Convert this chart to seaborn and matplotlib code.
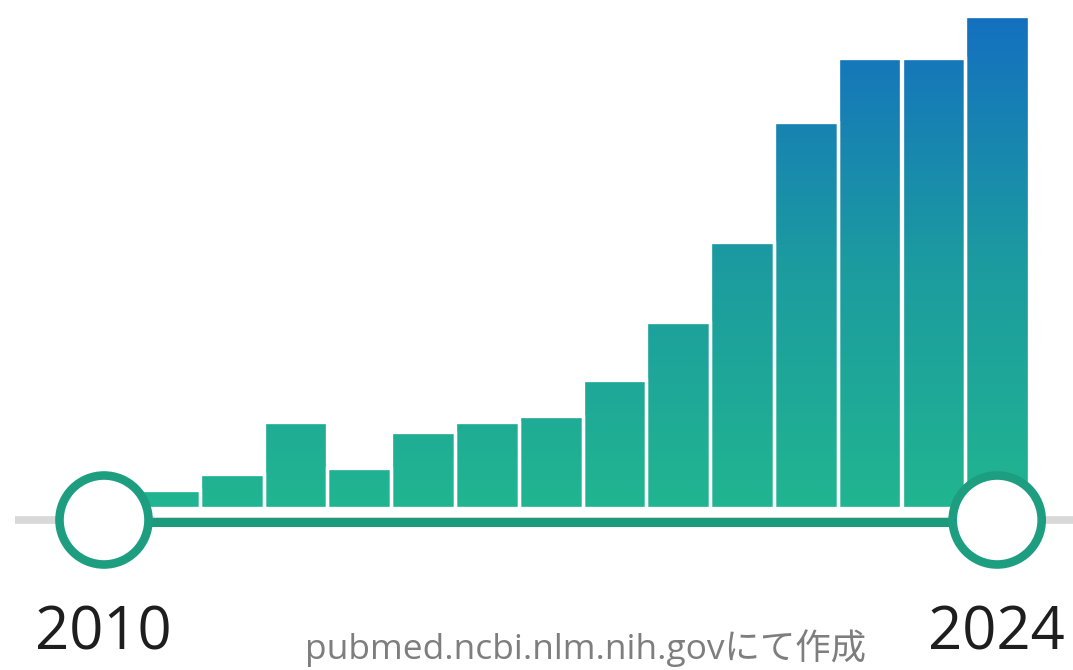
import numpy as np
import pandas as pd
import matplotlib
matplotlib.use("Agg")
import matplotlib.pyplot as plt
from matplotlib.colors import LinearSegmentedColormap
from matplotlib.patches import Circle
import seaborn as sns

# ---- data (relative publication counts) ----
years = [2010, 2011, 2012, 2013, 2014, 2015, 2016, 2017, 2018, 2019, 2020, 2021, 2022, 2023, 2024]
counts = [2, 9, 17, 43, 20, 38, 43, 46, 64, 93, 133, 193, 225, 225, 246]
start_label = "2010"
end_label = "2024"
credit = "pubmed.ncbi.nlm.nih.govにて作成"

W, H = 1073, 670
sns.set_theme(style="white")
plt.rcParams["font.family"] = ["Open Sans", "Noto Sans CJK JP", "DejaVu Sans"]

fig = plt.figure(figsize=(W / 100, H / 100), dpi=100)
ax = fig.add_axes([0, 0, 1, 1])
ax.set_axis_off()

df = pd.DataFrame({"year": [str(y) for y in years], "count": counts})
sns.barplot(data=df, x="year", y="count", ax=ax, width=1.0,
            color="#20b290", edgecolor="white", linewidth=2.4, zorder=2)

# pixel mapping: bar i centre at 104 + 63.8*i ; baseline 162 px from bottom, 2 px per unit
pitch = 63.8
ax.set_xlim(-104 / pitch, (W - 104) / pitch)
ax.set_ylim(-162 / 2.0, (H - 162) / 2.0)
ax.set_axis_off()

# vertical gradient fill clipped to each bar
cmap = LinearSegmentedColormap.from_list("pm", ["#21b590", "#1c9ba0", "#1470c0"])
ymax = max(counts) * 1.0
grad = np.linspace(0, 1, 256).reshape(-1, 1)
for p in list(ax.patches):
    x0 = p.get_x()
    x1 = x0 + p.get_width()
    im = ax.imshow(grad, extent=[x0, x1, 0, ymax], origin="lower", aspect="auto",
                   cmap=cmap, zorder=2.5, interpolation="bicubic")
    im.set_clip_path(p)
    p.set_facecolor("none")
    p.set_zorder(3)
ax.set_xlim(-104 / pitch, (W - 104) / pitch)
ax.set_ylim(-162 / 2.0, (H - 162) / 2.0)

# overlay in pixel coordinates for slider decoration and text
ov = fig.add_axes([0, 0, 1, 1], zorder=5)
ov.set_xlim(0, W)
ov.set_ylim(H, 0)
ov.set_axis_off()
ov.patch.set_alpha(0)

xl = ax.transData.transform((0, 0))[0]
xr = ax.transData.transform((len(years) - 1, 0))[0]
ys = 520
ov.plot([15, W], [ys, ys], color="#d8d8d8", lw=5.5, solid_capstyle="butt", zorder=1)
ov.plot([xl, xr], [ys + 1.5, ys + 1.5], color="#1c9b7c", lw=6.5, solid_capstyle="butt", zorder=2)
ov.plot([xl + 50, xr - 50], [ys - 7, ys - 7], color="white", lw=5, solid_capstyle="butt", zorder=2)
for xc in (xl, xr):
    ov.add_patch(Circle((xc, ys), 44.5, facecolor="white", edgecolor="#1e9e80", lw=6.2, zorder=3))

ov.text(xl - 1, 650, start_label, ha="center", va="baseline", fontsize=43, color="#1e1e1e")
ov.text(xr - 1, 650, end_label, ha="center", va="baseline", fontsize=43, color="#1e1e1e")
ov.text(586, 659, credit, ha="center", va="baseline", fontsize=25.5, color="#7e7e7e",
        family=["Open Sans", "Noto Sans CJK JP", "DejaVu Sans"])

fig.savefig("out.png", dpi=100)
